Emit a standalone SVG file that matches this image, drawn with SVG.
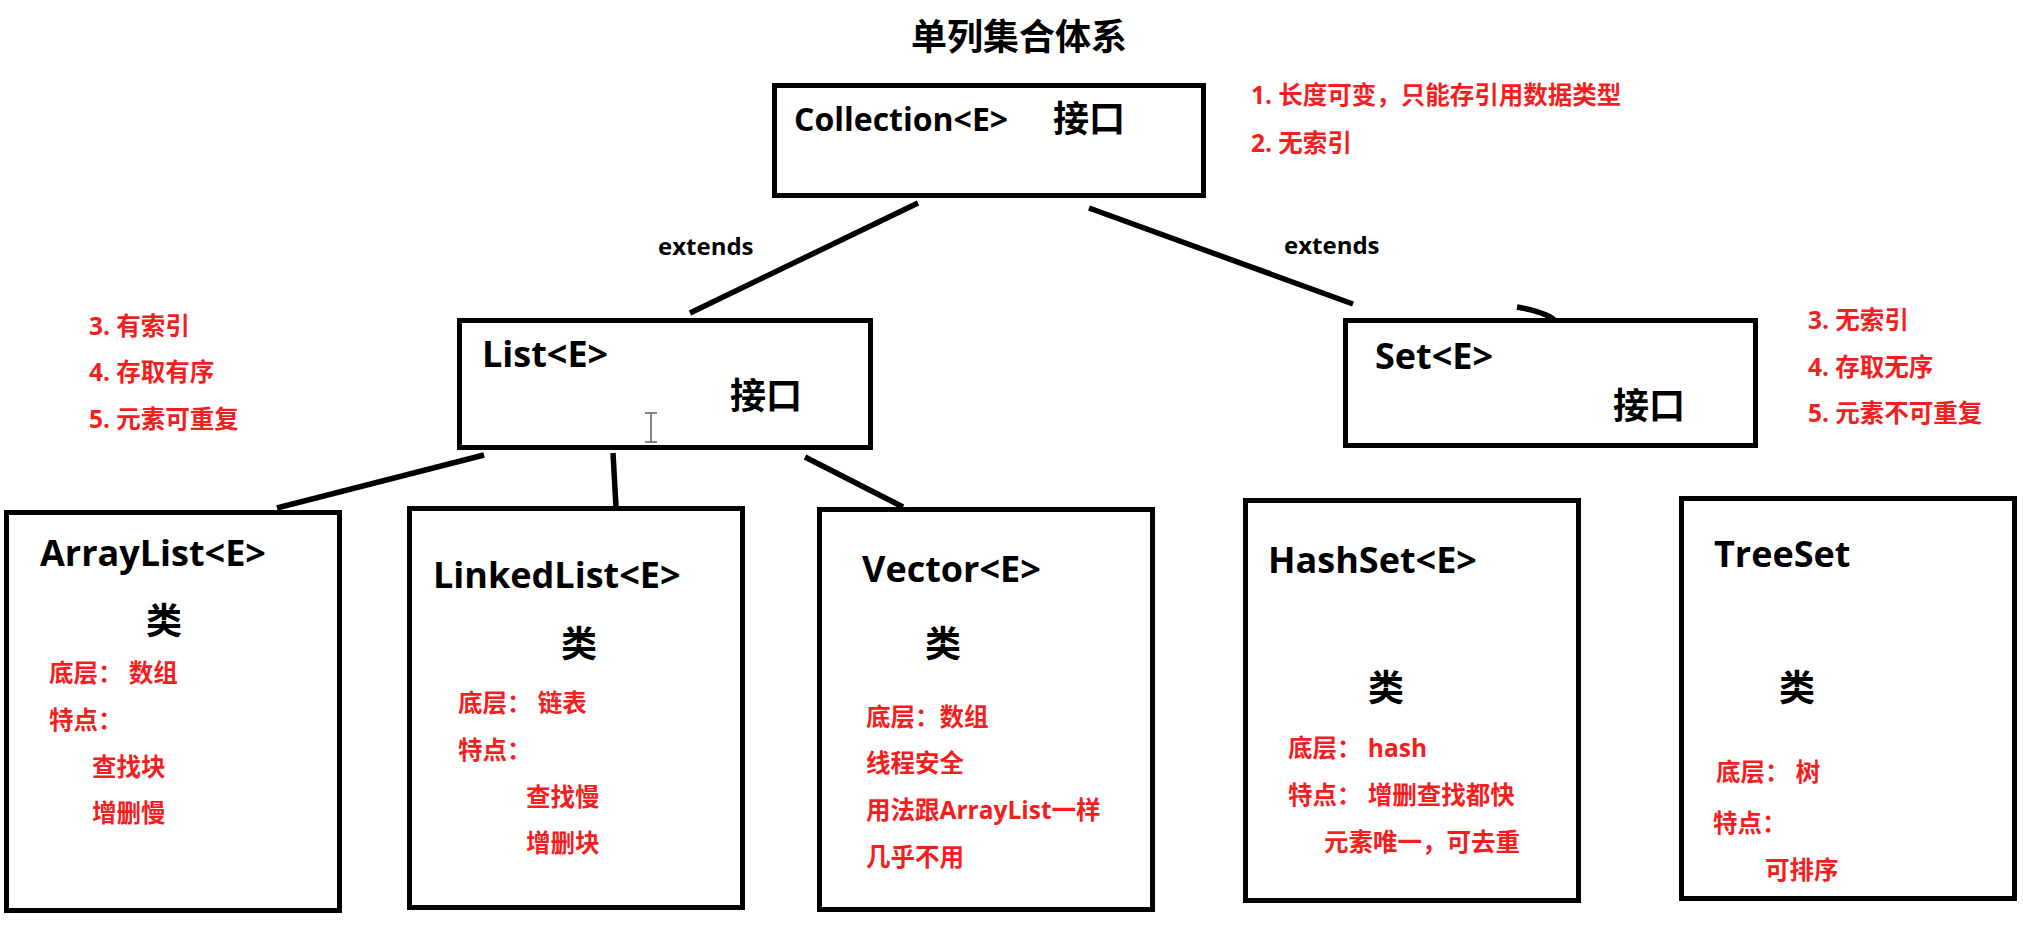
<svg xmlns="http://www.w3.org/2000/svg" width="2023" height="930" viewBox="0 0 2023 930">
<style>
.box{fill:#fff;stroke:#000;stroke-width:5}
.lk{fill:none;stroke:#000;stroke-width:5.5;stroke-linecap:butt}
text{font-family:"Open Sans","Noto Sans CJK SC",sans-serif;font-weight:bold}
.nm{font-size:36px;fill:#000}
.cj{font-size:36px;fill:#000}
.rd{font-size:24.5px;fill:#f51e1e}
.nt{font-size:24.5px;fill:#f51e1e}
.ex{font-size:24px;fill:#000}
</style>
<rect width="2023" height="930" fill="#fff"/>
<text x="911" y="50" style="font-size:36px">单列集合体系</text>
<g id="connectors">
<line class="lk" x1="918" y1="203" x2="690" y2="313"/>
<line class="lk" x1="1089" y1="208" x2="1353" y2="304"/>
<path class="lk" d="M1517,307 Q1550,313 1556,322"/>
<line class="lk" x1="484" y1="455" x2="277" y2="508"/>
<line class="lk" x1="613" y1="453" x2="616" y2="507"/>
<line class="lk" x1="805" y1="457" x2="903" y2="507"/>
<text class="ex" x="658" y="255">extends</text>
<text class="ex" x="1284" y="254">extends</text>
</g>
<g id="collection">
<rect class="box" x="774.5" y="85.5" width="429" height="110"/>
<text x="794" y="131" style="font-size:32px">Collection&lt;E&gt;</text>
<text class="cj" x="1053" y="132">接口</text>
<text class="nt" x="1251" y="104">1. 长度可变，只能存引用数据类型</text>
<text class="nt" x="1251" y="152">2. 无索引</text>
</g>
<g id="list">
<rect class="box" x="459.5" y="320.5" width="411" height="127"/>
<text class="nm" x="482" y="367">List&lt;E&gt;</text>
<text class="cj" x="730" y="409">接口</text>
<path d="M645,413 H657 M651,413 V442 M645,442 H657" fill="none" stroke="#5a5f6e" stroke-width="1.5"/>
<text class="nt" x="89" y="335">3. 有索引</text>
<text class="nt" x="89" y="381">4. 存取有序</text>
<text class="nt" x="89" y="428">5. 元素可重复</text>
</g>
<g id="set">
<rect class="box" x="1345.5" y="320.5" width="410" height="125"/>
<text class="nm" x="1375" y="369">Set&lt;E&gt;</text>
<text class="cj" x="1613" y="419">接口</text>
<text class="nt" x="1808" y="329">3. 无索引</text>
<text class="nt" x="1808" y="376">4. 存取无序</text>
<text class="nt" x="1808" y="422">5. 元素不可重复</text>
</g>
<g id="arraylist">
<rect class="box" x="6.5" y="512.5" width="333" height="398"/>
<text class="nm" x="40" y="566">ArrayList&lt;E&gt;</text>
<text class="cj" x="146" y="634">类</text>
<text class="rd" x="49" y="682">底层： 数组</text>
<text class="rd" x="49" y="729">特点：</text>
<text class="rd" x="92" y="776">查找块</text>
<text class="rd" x="92" y="822">增删慢</text>
</g>
<g id="linkedlist">
<rect class="box" x="409.5" y="508.5" width="333" height="399"/>
<text class="nm" x="433" y="588">LinkedList&lt;E&gt;</text>
<text class="cj" x="561" y="657">类</text>
<text class="rd" x="458" y="712">底层： 链表</text>
<text class="rd" x="458" y="759">特点：</text>
<text class="rd" x="526" y="806">查找慢</text>
<text class="rd" x="526" y="852">增删块</text>
</g>
<g id="vector">
<rect class="box" x="819.5" y="509.5" width="333" height="400"/>
<text class="nm" x="862" y="582">Vector&lt;E&gt;</text>
<text class="cj" x="925" y="657">类</text>
<text class="rd" x="866" y="726">底层：数组</text>
<text class="rd" x="866" y="772">线程安全</text>
<text class="rd" x="866" y="819">用法跟ArrayList一样</text>
<text class="rd" x="866" y="866">几乎不用</text>
</g>
<g id="hashset">
<rect class="box" x="1245.5" y="500.5" width="333" height="400"/>
<text class="nm" x="1268" y="573">HashSet&lt;E&gt;</text>
<text class="cj" x="1368" y="701">类</text>
<text class="rd" x="1288" y="757">底层： hash</text>
<text class="rd" x="1288" y="804">特点： 增删查找都快</text>
<text class="rd" x="1324" y="851">元素唯一，可去重</text>
</g>
<g id="treeset">
<rect class="box" x="1681.5" y="498.5" width="333" height="400"/>
<text class="nm" x="1714" y="567">TreeSet</text>
<text class="cj" x="1779" y="701">类</text>
<text class="rd" x="1716" y="781">底层： 树</text>
<text class="rd" x="1713" y="832">特点：</text>
<text class="rd" x="1765" y="879">可排序</text>
</g>
</svg>
